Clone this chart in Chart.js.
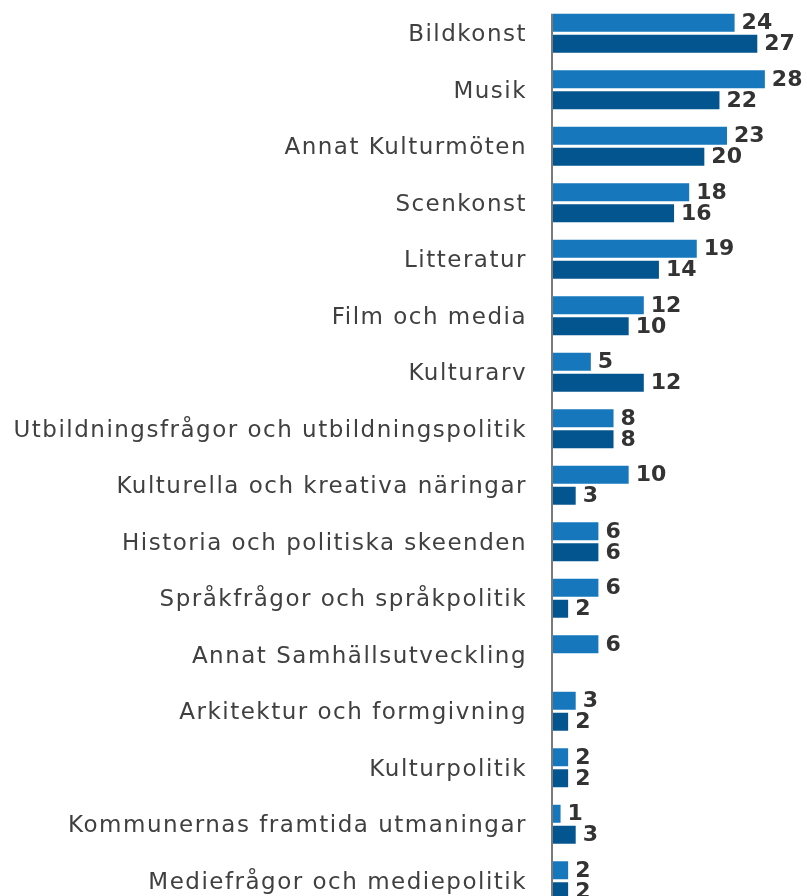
<!DOCTYPE html>
<html>
<head>
<meta charset="utf-8">
<script src="https://cdn.jsdelivr.net/npm/chart.js@4/dist/chart.umd.min.js"></script>
<style>
  html, body { margin: 0; padding: 0; background: #fff; overflow: hidden; }
</style>
</head>
<body>
<canvas id="chart" width="807" height="920"></canvas>
<script>
// Kategorier
const categories = [
  'Bildkonst',
  'Musik',
  'Annat Kulturmöten',
  'Scenkonst',
  'Litteratur',
  'Film och media',
  'Kulturarv',
  'Utbildningsfrågor och utbildningspolitik',
  'Kulturella och kreativa näringar',
  'Historia och politiska skeenden',
  'Språkfrågor och språkpolitik',
  'Annat Samhällsutveckling',
  'Arkitektur och formgivning',
  'Kulturpolitik',
  'Kommunernas framtida utmaningar',
  'Mediefrågor och mediepolitik'
];

// Serier
const seriesA = [24, 28, 23, 18, 19, 12, 5, 8, 10, 6, 6, 6, 3, 2, 1, 2];
const seriesB = [27, 22, 20, 16, 14, 10, 12, 8, 3, 6, 2, null, 2, 2, 3, 2];

const FONT = '"DejaVu Sans", sans-serif';

// Bredare textspärrning för kategorietiketterna
const spacingPlugin = {
  id: 'spacing',
  beforeDraw(chart) { chart.ctx.letterSpacing = '1.5px'; },
  afterDraw(chart) { chart.ctx.letterSpacing = '0px'; }
};

// Värdeetiketter och axellinje
const labelPlugin = {
  id: 'valueLabels',
  afterDatasetsDraw(chart) {
    const ctx = chart.ctx;
    const area = chart.chartArea;
    ctx.save();
    ctx.letterSpacing = '0px';
    const first = chart.getDatasetMeta(0).data[0];
    ctx.strokeStyle = '#7a7a7a';
    ctx.lineWidth = 2;
    ctx.beginPath();
    ctx.moveTo(area.left - 1, first.y - first.height / 2);
    ctx.lineTo(area.left - 1, area.bottom);
    ctx.stroke();

    ctx.font = 'bold 22px ' + FONT;
    ctx.fillStyle = '#333333';
    ctx.textAlign = 'left';
    ctx.textBaseline = 'middle';
    chart.data.datasets.forEach((ds, i) => {
      const meta = chart.getDatasetMeta(i);
      meta.data.forEach((bar, j) => {
        const v = ds.data[j];
        if (v === null || v === undefined) return;
        ctx.fillText(String(v), bar.x + 7, bar.y + 1);
      });
    });
    ctx.restore();
  }
};

new Chart(document.getElementById('chart'), {
  type: 'bar',
  data: {
    labels: categories,
    datasets: [
      {
        label: 'A',
        data: seriesA,
        backgroundColor: '#1677bd',
        categoryPercentage: 0.743,
        barPercentage: 0.857
      },
      {
        label: 'B',
        data: seriesB,
        backgroundColor: '#03558f',
        categoryPercentage: 0.743,
        barPercentage: 0.857
      }
    ]
  },
  options: {
    indexAxis: 'y',
    responsive: false,
    animation: false,
    devicePixelRatio: 1,
    layout: { padding: { top: 5, bottom: 11, left: 0, right: 27 } },
    plugins: {
      legend: { display: false },
      tooltip: { enabled: false }
    },
    scales: {
      x: {
        display: false,
        min: 0,
        max: 30
      },
      y: {
        afterFit(axis) {
          axis.width = 553;
          axis.paddingTop = 0;
          axis.paddingBottom = 0;
        },
        grid: { display: false, drawTicks: false },
        border: { display: false },
        ticks: {
          padding: 26,
          labelOffset: 2,
          color: '#404040',
          font: { family: FONT, size: 23 }
        }
      }
    }
  },
  plugins: [spacingPlugin, labelPlugin]
});
</script>
</body>
</html>
